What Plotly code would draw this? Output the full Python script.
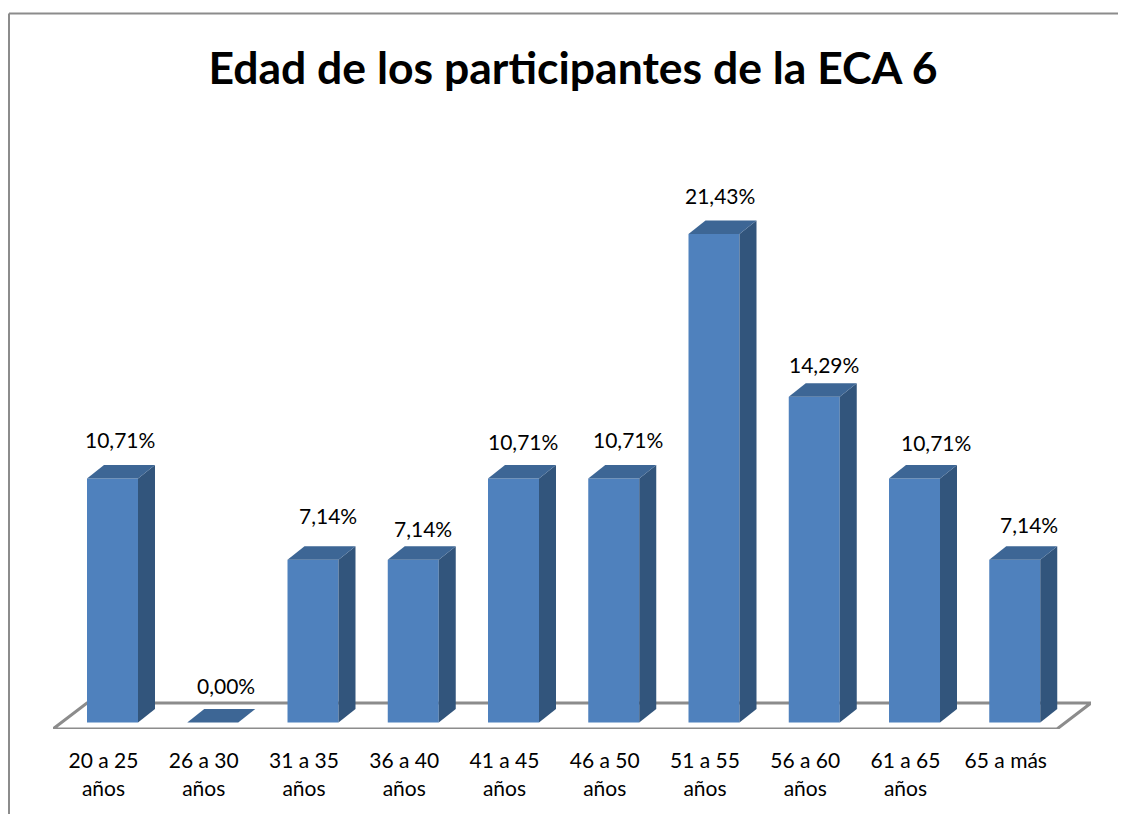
import plotly.graph_objects as go

categories = ["20 a 25<br>años", "26 a 30<br>años", "31 a 35<br>años", "36 a 40<br>años",
              "41 a 45<br>años", "46 a 50<br>años", "51 a 55<br>años", "56 a 60<br>años",
              "61 a 65<br>años", "65 a más"]
values = [10.71, 0.00, 7.14, 7.14, 10.71, 10.71, 21.43, 14.29, 10.71, 7.14]
labels = ["10,71%", "0,00%", "7,14%", "7,14%", "10,71%", "10,71%", "21,43%", "14,29%", "10,71%", "7,14%"]
title = "Edad de los participantes de la ECA 6"

# manual label placement offsets in pixels relative to the bar's front top centre
label_dx = [7, 13, 15, 10, 9, 14, 6, 10, 21, 14]
label_dy = [39, 37, 44, 31, 37, 39, 39, 32, 36, 35]

OFF = 8  # the page body margin shifts the figure by this many pixels
W, H = 1126 - OFF, 814 - OFF
PX_PER_CAT = 100.25
PX_PER_PCT = 22.8
LEFT, RIGHT, TOP, BOTTOM = 53 - OFF, 1091 - OFF, 100 - OFF, 729 - OFF
CENTER0, BASE_Y = 112.5 - OFF, 722.6 - OFF

x_range = [(LEFT - CENTER0) / PX_PER_CAT, (RIGHT - CENTER0) / PX_PER_CAT]
y_range = [(BASE_Y - BOTTOM) / PX_PER_PCT, (BASE_Y - TOP) / PX_PER_PCT]
half = 25.5 / PX_PER_CAT
dx = 17 / PX_PER_CAT
dy = 13.5 / PX_PER_PCT
FRONT, SIDE, TOPC, GREY = "#4f81bd", "#32557c", "#3d6695", "#8c8c8c"
FONT = "Lato"

fig = go.Figure()
xs = list(range(len(values)))
fig.add_trace(go.Bar(x=xs, y=values, width=2 * half, marker=dict(color=FRONT, line=dict(width=0)),
                     showlegend=False, hoverinfo="skip"))

for i, v in zip(xs, values):
    if v > 0:
        fig.add_trace(go.Scatter(
            x=[i + half, i + half + dx, i + half + dx, i + half, i + half],
            y=[0, dy, v + dy, v, 0], mode="lines", fill="toself", fillcolor=SIDE,
            line=dict(width=0), showlegend=False, hoverinfo="skip", cliponaxis=False))
    fig.add_trace(go.Scatter(
        x=[i - half, i + half, i + half + dx, i - half + dx, i - half],
        y=[v, v, v + dy, v + dy, v], mode="lines", fill="toself", fillcolor=TOPC,
        line=dict(width=0), showlegend=False, hoverinfo="skip", cliponaxis=False))

# floor outline
floor_back = (729 - 703) / PX_PER_PCT + y_range[0]
x0 = x_range[0]
x1 = (1057 - OFF - CENTER0) / PX_PER_CAT
x_shift = 34 / PX_PER_CAT
fig.add_shape(type="path", layer="below", line=dict(color=GREY, width=3), fillcolor="white",
              path=f"M {x0} {y_range[0]} L {x1} {y_range[0]} L {x1 + x_shift} {floor_back} "
                   f"L {x0 + x_shift} {floor_back} Z")

def px_x(p):
    return (p - OFF - LEFT) / (RIGHT - LEFT)

def px_y(p):
    return (BOTTOM - (p - OFF)) / (BOTTOM - TOP)

# chart frame
fig.add_shape(type="line", xref="paper", yref="paper", x0=px_x(9), x1=px_x(9), y0=px_y(13.5), y1=px_y(814),
              line=dict(color=GREY, width=2))
fig.add_shape(type="line", xref="paper", yref="paper", x0=px_x(9), x1=px_x(1126), y0=px_y(13.5), y1=px_y(13.5),
              line=dict(color=GREY, width=2))

for i, v, t, ox, oy in zip(xs, values, labels, label_dx, label_dy):
    fig.add_annotation(x=i, y=v, text=t, showarrow=False, xshift=ox, yshift=oy,
                       xanchor="center", yanchor="middle", font=dict(family=FONT, size=21, color="black"))

fig.update_layout(
    width=W, height=H, autosize=False,
    margin=dict(l=LEFT, r=W - RIGHT, t=TOP, b=H - BOTTOM),
    paper_bgcolor="white", plot_bgcolor="rgba(0,0,0,0)",
    showlegend=False,
    title=dict(text=f"<b>{title}</b>", x=(573 - OFF) / W, y=1 - (68 - OFF) / H, xanchor="center", yanchor="middle",
               font=dict(family=FONT, size=44.5, color="black")),
    xaxis=dict(range=x_range, tickmode="array", tickvals=xs, ticktext=categories, showgrid=False,
               zeroline=False, showline=False, ticks="outside", ticklen=13, tickcolor="rgba(0,0,0,0)",
               ticklabelshift=-9,
               tickfont=dict(family=FONT, size=21, color="black"), tickangle=0, fixedrange=True),
    yaxis=dict(range=y_range, visible=False, fixedrange=True),
)
fig.write_html("out.html")
